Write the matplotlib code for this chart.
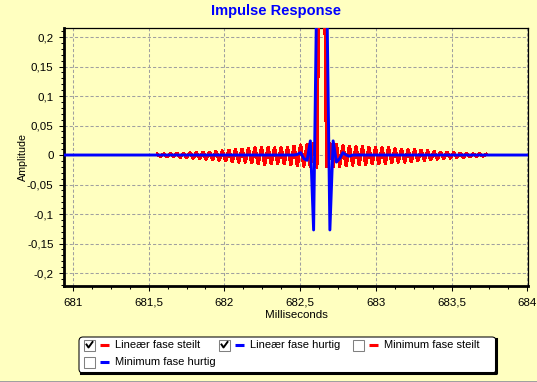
import numpy as np
import matplotlib.pyplot as plt
from matplotlib.ticker import MultipleLocator, FuncFormatter
from matplotlib.patches import Rectangle, FancyBboxPatch
from matplotlib.lines import Line2D
from matplotlib.transforms import Affine2D

plt.rcParams['font.family'] = ['Liberation Sans', 'DejaVu Sans']

# sample grid in ms, both filters are centred between two samples
t_centre = 682.643
dt = 0.0215

# Lineær fase steilt (red), sample values read from the centre outwards
red_right = [0.46, -0.02, 0.019, -0.02, 0.018, -0.019, 0.016, -0.018, 0.015, -0.017,
             0.014, -0.016, 0.014, -0.016, 0.013, -0.015, 0.013, -0.015, 0.012, -0.014,
             0.012, -0.013, 0.011, -0.012, 0.010, -0.012, 0.009, -0.011, 0.009, -0.010,
             0.008, -0.009, 0.007, -0.008, 0.006, -0.007, 0.005, -0.006, 0.005, -0.005,
             0.004, -0.004, 0.003, -0.004, 0.003, -0.003, 0.002, -0.002, 0.002, -0.002,
             0.001]
red_left = [0.46, -0.021, 0.02, -0.02, 0.018, -0.019, 0.017, -0.018, 0.015, -0.016,
            0.013, -0.015, 0.012, -0.014, 0.012, -0.015, 0.013, -0.016, 0.013, -0.015,
            0.012, -0.013, 0.011, -0.012, 0.010, -0.012, 0.009, -0.011, 0.008, -0.010,
            0.007, -0.009, 0.006, -0.008, 0.005, -0.007, 0.005, -0.006, 0.004, -0.005,
            0.004, -0.004, 0.003, -0.004, 0.003, -0.003, 0.002, -0.003, 0.002, -0.002,
            0.001]

# Lineær fase hurtig (blue), centre outwards, flat zero after that
blue_right = [0.46, 0.30, -0.127, 0.024, -0.012, -0.006, 0.004, 0.0, -0.002, 0.0]
blue_left = [0.46, 0.30, -0.127, 0.024, -0.009, -0.006, 0.004, 0.001, 0.0, 0.0]
n_blue_left = 82   # samples needed to reach the left edge of the plot
n_blue_right = 66  # and the right edge

legend_labels = ['Lineær fase steilt', 'Lineær fase hurtig',
                 'Minimum fase steilt', 'Minimum fase hurtig']
legend_colors = ['#FF0000', '#0000FF', '#FF0000', '#0000FF']
legend_checked = [True, True, False, False]


def side_times(n, side):
    return t_centre + side * (np.arange(n) + 0.5) * dt


red_t = np.concatenate([side_times(len(red_left), -1)[::-1], side_times(len(red_right), 1)])
red_v = np.concatenate([np.array(red_left)[::-1], red_right])

bl = blue_left + [0.0] * (n_blue_left - len(blue_left))
br = blue_right + [0.0] * (n_blue_right - len(blue_right))
blue_t = np.concatenate([side_times(n_blue_left, -1)[::-1], side_times(n_blue_right, 1)])
blue_v = np.concatenate([np.array(bl)[::-1], br])

bg = '#FFFFC0'
W, H = 537, 382
fig = plt.figure(figsize=(W / 100, H / 100), dpi=100, facecolor=bg)
# pixel coordinates measured from the top left corner
px = Affine2D().scale(1 / W, -1 / H).translate(0, 1) + fig.transFigure

ax = fig.add_axes([64 / W, (H - 286) / H, 464 / W, 258 / H])
ax.set_facecolor(bg)

ax.plot(red_t, red_v, color='#FF0000', lw=1.6, antialiased=False, zorder=3)
ax.plot(blue_t, blue_v, color='#0000FF', lw=2.1, zorder=4)

ax.set_xlim(680.941, 684.005)
ax.set_ylim(-0.222, 0.2153)


def comma(v, pos):
    s = f'{v:.3f}'.rstrip('0').rstrip('.')
    if s == '-0':
        s = '0'
    return s.replace('.', ',')


ax.xaxis.set_major_locator(MultipleLocator(0.5))
ax.xaxis.set_minor_locator(MultipleLocator(0.125))
ax.yaxis.set_major_locator(MultipleLocator(0.05))
ax.yaxis.set_minor_locator(MultipleLocator(0.01))
ax.xaxis.set_major_formatter(FuncFormatter(comma))
ax.yaxis.set_major_formatter(FuncFormatter(comma))
ax.tick_params(which='both', direction='out', color='black', width=0.75,
               labelsize=8.25, labelcolor='black')
ax.tick_params(which='major', length=3.5)
ax.tick_params(which='minor', length=2.5)
ax.tick_params(axis='x', which='major', pad=5)
ax.tick_params(axis='y', which='major', pad=4)

ax.grid(True, which='major', color='#A0A0A0', linestyle=(0, (3, 2)), linewidth=0.75)
ax.set_axisbelow(True)

for side in ['left', 'bottom']:
    ax.spines[side].set_linewidth(2.0)
for side in ['top', 'right']:
    ax.spines[side].set_linewidth(0.9)

ax.set_xlabel('Milliseconds', fontsize=8.25)
ax.xaxis.set_label_coords(0.5, -0.092)
ax.set_ylabel('Amplitude', fontsize=7.7)
ax.yaxis.set_label_coords(-0.078, 0.5)

fig.text(276, 11, 'Impulse Response', transform=px, ha='center', va='center',
         fontsize=10.5, fontweight='bold', color='#0000FF')

# legend box with check boxes
fig.add_artist(FancyBboxPatch((79, 337), 417, 36, boxstyle='round,pad=0,rounding_size=4',
                              transform=px, facecolor='white', edgecolor='black', lw=0.75))
fig.add_artist(Line2D([496, 496, 81], [339, 373, 373], transform=px, color='black', lw=2.2))

slots = [(84, 345), (219, 345), (353, 345), (84, 362)]
for (x0, yc), lab, col, chk in zip(slots, legend_labels, legend_colors, legend_checked):
    fig.add_artist(Rectangle((x0, yc - 5.5), 11, 11, transform=px, facecolor='white',
                             edgecolor='#808080', lw=0.75))
    if chk:
        fig.add_artist(Line2D([x0 + 2.5, x0 + 4.5, x0 + 8.5], [yc - 0.5, yc + 2.5, yc - 3],
                              transform=px, color='black', lw=1.4))
    fig.add_artist(Line2D([x0 + 16, x0 + 25], [yc, yc], transform=px, color=col, lw=2.2,
                          solid_capstyle='butt'))
    fig.text(x0 + 31, yc, lab, transform=px, va='center', ha='left', fontsize=8,
             color='black')

fig.add_artist(Rectangle((0, 380.5), W, 1.5, transform=px, facecolor='#A0A0A0',
                         edgecolor='none'))

fig.savefig('out.png', dpi=100, facecolor=bg)
